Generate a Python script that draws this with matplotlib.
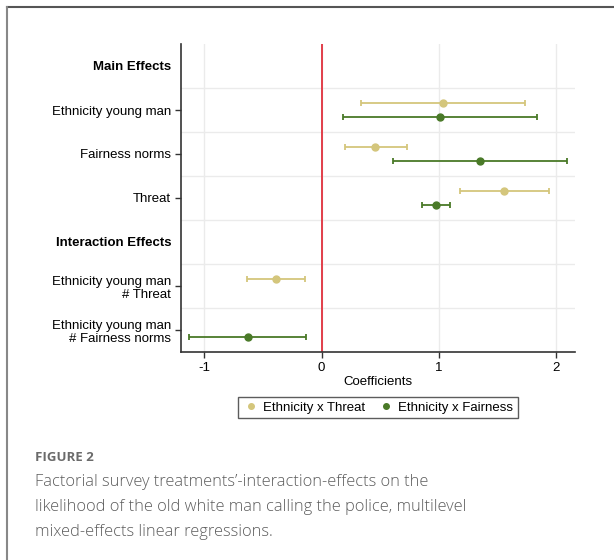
import matplotlib.pyplot as plt
from matplotlib.lines import Line2D

# row labels of the coefficient plot (top to bottom)
rows = ["Main Effects", "Ethnicity young man", "Fairness norms", "Threat",
        "Interaction Effects", "Ethnicity young man\n# Threat",
        "Ethnicity young man\n# Fairness norms"]
headers = [0, 4]

# Ethnicity x Threat model
threat_rows = [1, 2, 3, 5]
threat_coef = [1.04, 0.46, 1.56, -0.39]
threat_lo = [0.34, 0.20, 1.18, -0.64]
threat_hi = [1.74, 0.73, 1.94, -0.14]

# Ethnicity x Fairness model
fair_rows = [1, 2, 3, 6]
fair_coef = [1.01, 1.35, 0.98, -0.63]
fair_lo = [0.18, 0.61, 0.86, -1.13]
fair_hi = [1.84, 2.10, 1.10, -0.13]

tan = "#d4c67c"
green = "#4a7a28"

plt.rcParams['font.family'] = ['Liberation Sans', 'DejaVu Sans']

fig = plt.figure(figsize=(6.14, 5.6), dpi=100)
ax = fig.add_axes([181 / 614, 1 - 352 / 560, (575 - 181) / 614, (352 - 44) / 560])

def draw(rws, coef, lo, hi, off, color, label):
    y = [r + off for r in rws]
    xerr = [[c - l for c, l in zip(coef, lo)], [h - c for c, h in zip(coef, hi)]]
    ax.errorbar(coef, y, xerr=xerr, fmt="o", color=color, ms=5, lw=1.3,
                capsize=2.5, capthick=1.3, label=label, zorder=3)

draw(threat_rows, threat_coef, threat_lo, threat_hi, -0.165, tan, "Ethnicity x Threat")
draw(fair_rows, fair_coef, fair_lo, fair_hi, 0.165, green, "Ethnicity x Fairness")

ax.axvline(0, color="#e0303c", lw=1.3, zorder=2)

ax.set_xlim(-1.2, 2.165)
ax.set_ylim(6.5, -0.5)
ax.set_xticks([-1, 0, 1, 2])
ax.set_xticklabels(["-1", "0", "1", "2"], fontsize=9.5)
ax.set_yticks(range(len(rows)))
ax.set_yticklabels(rows, fontsize=9.5)
ax.set_yticks([i + 0.5 for i in range(len(rows) - 1)], minor=True)
ax.tick_params(axis="y", which="minor", length=0)
ax.tick_params(axis="both", which="major", length=4, width=1, color="#333333", pad=3)
for i, t in enumerate(ax.yaxis.get_major_ticks()):
    if i in headers:
        t.tick1line.set_visible(False)
        t.label1.set_fontweight("bold")

ax.grid(True, which="minor", axis="y", color="#ebebeb", lw=1)
ax.grid(True, which="major", axis="x", color="#ebebeb", lw=1)
ax.set_axisbelow(True)
for s in ["top", "right"]:
    ax.spines[s].set_visible(False)
for s in ["left", "bottom"]:
    ax.spines[s].set_color("#333333")
    ax.spines[s].set_linewidth(1.2)

ax.set_xlabel("Coefficients", fontsize=9.5, labelpad=1.5)

handles = [Line2D([], [], ls="", marker="o", ms=4, color=tan),
           Line2D([], [], ls="", marker="o", ms=4, color=green)]
leg = ax.legend(handles, ["Ethnicity x Threat", "Ethnicity x Fairness"], ncol=2,
                loc="center", bbox_to_anchor=(0.5, 1 - (407.5 - 44) / 308),
                frameon=True, fancybox=False, fontsize=9.5, handletextpad=0.3,
                handlelength=1.2, columnspacing=1.0, borderpad=0.35)
leg.get_frame().set_edgecolor("#333333")
leg.get_frame().set_linewidth(1)

# page frame lines
fig.add_artist(Line2D([7 / 614, 1], [1 - 7 / 560, 1 - 7 / 560], color="#555555", lw=1.5))
fig.add_artist(Line2D([7 / 614, 7 / 614], [0, 1 - 7 / 560], color="#888888", lw=1.5))

# caption
fig.text(35 / 614, 1 - 451 / 560, "FIGURE 2", fontsize=9.5, fontweight="bold",
         color="#6b6b6b", family=["Open Sans", "DejaVu Sans"], va="top")
fig.text(35 / 614, 1 - 474 / 560,
         "Factorial survey treatments\u2019-interaction-effects on the\n"
         "likelihood of the old white man calling the police, multilevel\n"
         "mixed-effects linear regressions.",
         fontsize=11.8, fontweight="light", color="#5c5c5c",
         family=["Open Sans", "DejaVu Sans"], va="top", linespacing=1.73)

fig.savefig("out.png", dpi=100)
